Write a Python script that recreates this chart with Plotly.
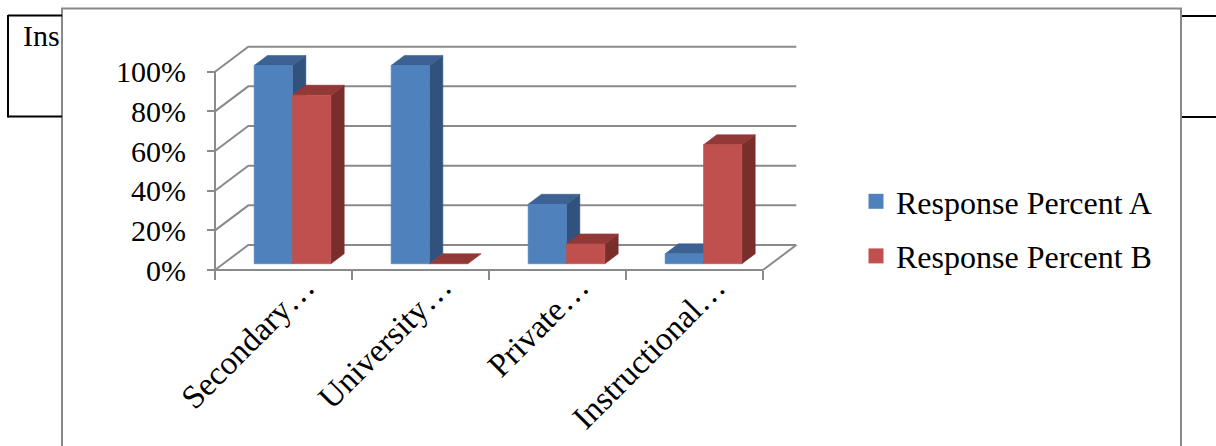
import plotly.graph_objects as go

# ---- data -------------------------------------------------------------
categories = ["Secondary…", "University…", "Private…", "Instructional…"]
series_names = ["Response Percent A", "Response Percent B"]
response_a = [100, 100, 30, 5]
response_b = [85, 0, 10, 60]
y_ticks = [0, 20, 40, 60, 80, 100]
y_tick_text = [f"{v}%" for v in y_ticks]

# ---- page geometry ----------------------------------------------------
W, H = 1216, 446
X0_PX, Y0_PX = 215, 270          # front-left corner of the floor
PX_PER_CAT = 137                  # horizontal pixels per category slot
PX_PER_PCT = 1.983                # vertical pixels per percent

# oblique depth vector of the 3-D box (data units) and bar placement
DX, DY = 0.243, 12.6
BAR_D0, BAR_D1 = 0.25, 0.65
BAR_W = 0.28
BAR_GAP = 0.225

FONT = "Liberation Serif"
GRID = "#8a8a8a"
FACE = {
    "A": {"front": "#4F81BD", "top": "#3C6192", "side": "#31527C"},
    "B": {"front": "#C0504D", "top": "#923836", "side": "#7A2E2C"},
}

x_range = [-X0_PX / PX_PER_CAT, (W - X0_PX) / PX_PER_CAT]
y_range = [-(H - Y0_PX) / PX_PER_PCT, Y0_PX / PX_PER_PCT]


def proj(x, y, d):
    """Oblique projection of (category x, value y, depth d) onto the plane."""
    return x + d * DX, y + d * DY


def poly(points, color):
    xs, ys = zip(*[proj(*p) for p in points])
    return go.Scatter(
        x=list(xs) + [xs[0]], y=list(ys) + [ys[0]],
        mode="lines", fill="toself", fillcolor=color,
        line=dict(color=color, width=0.6),
        hoverinfo="skip", showlegend=False,
    )


fig = go.Figure()

# ---- walls, floor and gridlines -------------------------------------
n = len(categories)
wall_x, wall_y = [], []
segments = [[(0, g, 0), (0, g, 1), (n, g, 1)] for g in y_ticks]
segments += [[(0, 0, 0), (0, 100, 0)],      # front value axis
             [(0, 0, 0), (n, 0, 0)],        # front floor edge
             [(n, 0, 0), (n, 0, 1)]]        # right floor edge
for seg in segments:
    for p in seg:
        px, py = proj(*p)
        wall_x.append(px)
        wall_y.append(py)
    wall_x.append(None)
    wall_y.append(None)
fig.add_trace(go.Scatter(x=wall_x, y=wall_y, mode="lines",
                         line=dict(color=GRID, width=2),
                         hoverinfo="skip", showlegend=False))

# ---- 3-D bars -----------------------------------------------------------
for i in range(n):
    for key, vals, k in (("A", response_a, 0), ("B", response_b, 1)):
        v = vals[i]
        x0 = i + BAR_GAP + k * BAR_W
        x1 = x0 + BAR_W
        c = FACE[key]
        if v > 0:
            fig.add_trace(poly([(x1, 0, BAR_D0), (x1, 0, BAR_D1),
                                (x1, v, BAR_D1), (x1, v, BAR_D0)], c["side"]))
        fig.add_trace(poly([(x0, v, BAR_D0), (x1, v, BAR_D0),
                            (x1, v, BAR_D1), (x0, v, BAR_D1)], c["top"]))
        if v > 0:
            fig.add_trace(poly([(x0, 0, BAR_D0), (x1, 0, BAR_D0),
                                (x1, v, BAR_D0), (x0, v, BAR_D0)], c["front"]))

# ---- legend entries ---------------------------------------------------
for name, key in zip(series_names, ("A", "B")):
    fig.add_trace(go.Scatter(
        x=[None], y=[None], mode="markers", name=name, legendgroup=name,
        marker=dict(symbol="square", size=15, color=FACE[key]["front"]),
    ))


# ---- page decoration: chart frame and surrounding table rules ----------
def px_x(v):
    return v / W


def px_y(v):
    return 1 - v / H


shapes = [
    dict(type="rect", xref="paper", yref="paper",
         x0=px_x(62), x1=px_x(1181), y0=px_y(470), y1=px_y(8.5),
         line=dict(color="#898989", width=2), fillcolor="rgba(0,0,0,0)",
         layer="below"),
]
for (xa, ya, xb, yb) in [(8, 15.5, 62, 15.5), (8, 116.5, 62, 116.5),
                         (8, 15, 8, 117.5),
                         (1182, 16, 1216, 16), (1182, 117, 1216, 117)]:
    shapes.append(dict(type="line", xref="paper", yref="paper",
                       x0=px_x(xa), y0=px_y(ya), x1=px_x(xb), y1=px_y(yb),
                       line=dict(color="black", width=2)))

# category labels, rotated along the front floor edge
annotations = [dict(text="Ins", xref="paper", yref="paper",
                    x=px_x(21), y=px_y(35), xanchor="left", yanchor="middle",
                    showarrow=False,
                    font=dict(family=FONT, size=30, color="black"))]
for i, label in enumerate(categories):
    annotations.append(dict(
        text=label, xref="x", yref="y", x=i + 0.80, y=2.0,
        xanchor="right", yanchor="top", textangle=-45, showarrow=False,
        font=dict(family=FONT, size=33, color="black"),
    ))

fig.update_layout(
    width=W, height=H,
    margin=dict(l=0, r=0, t=0, b=0),
    paper_bgcolor="white", plot_bgcolor="white",
    template="none",
    shapes=shapes,
    annotations=annotations,
    font=dict(family=FONT, size=30, color="black"),
    showlegend=True,
    legend=dict(x=px_x(856), y=px_y(174), xanchor="left", yanchor="top",
                font=dict(family=FONT, size=32, color="black"),
                bgcolor="rgba(0,0,0,0)", borderwidth=0,
                tracegroupgap=10, itemwidth=30),
    xaxis=dict(range=x_range, anchor="free", position=(H - Y0_PX) / H,
               tickvals=list(range(n + 1)), ticks="outside", ticklen=9,
               tickwidth=2, tickcolor=GRID, showticklabels=False,
               showgrid=False, zeroline=False, showline=False,
               automargin=False, fixedrange=True),
    yaxis=dict(range=y_range, anchor="free", position=X0_PX / W,
               tickmode="array", tickvals=y_ticks, ticktext=y_tick_text,
               ticks="outside", ticklen=8, tickwidth=2, tickcolor=GRID,
               ticklabelstandoff=15,
               tickfont=dict(family=FONT, size=30, color="black"),
               showgrid=False, zeroline=False, showline=False,
               automargin=False, fixedrange=True),
)

fig.write_html("out.html")
